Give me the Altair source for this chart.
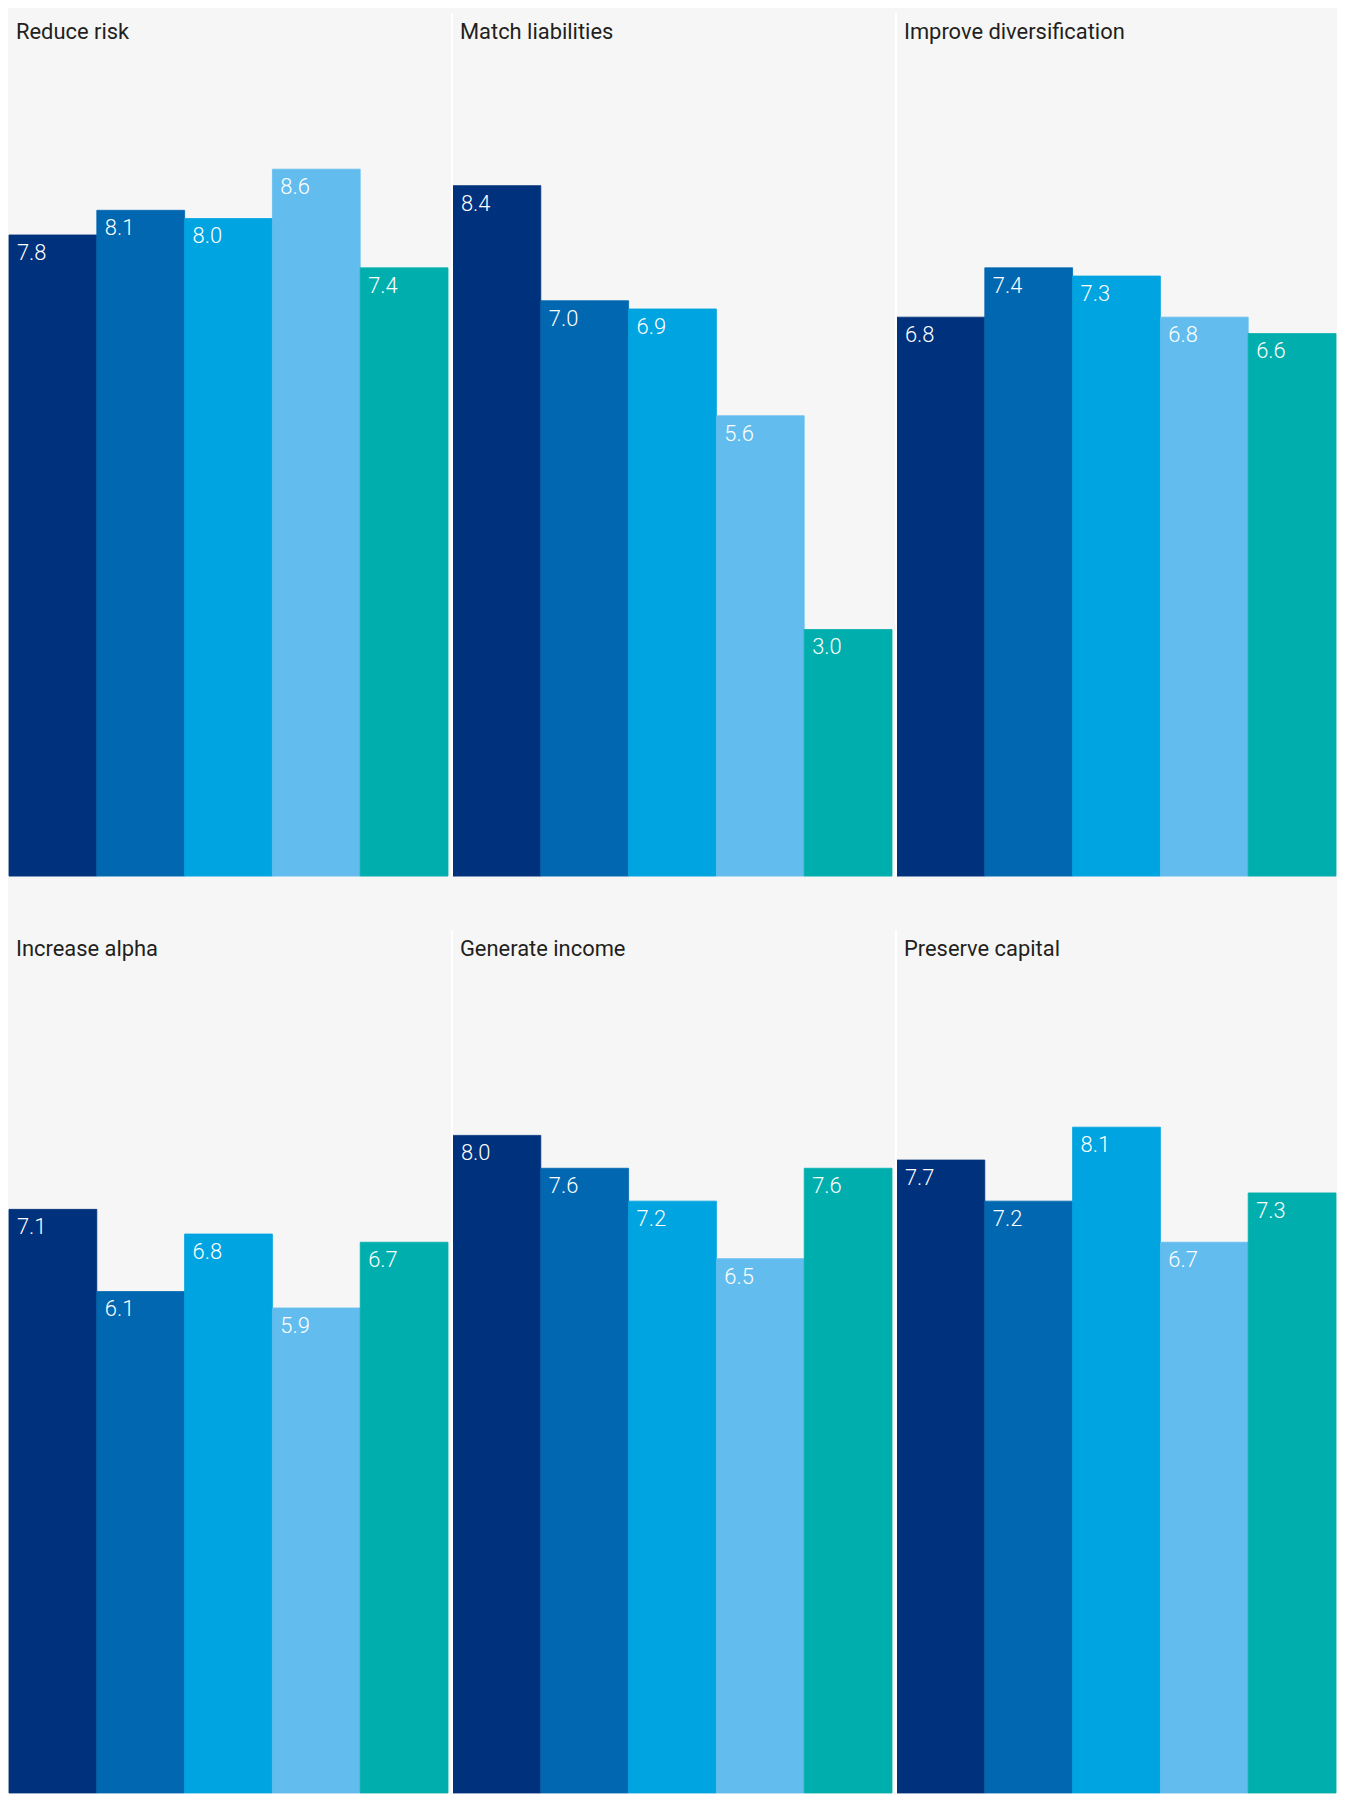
import altair as alt
import pandas as pd

# ---- data ----
TITLES = ["Reduce risk", "Match liabilities", "Improve diversification",
          "Increase alpha", "Generate income", "Preserve capital"]
SERIES = ["Series 1", "Series 2", "Series 3", "Series 4", "Series 5"]
reduce_risk = [7.8, 8.1, 8.0, 8.6, 7.4]
match_liabilities = [8.4, 7.0, 6.9, 5.6, 3.0]
improve_diversification = [6.8, 7.4, 7.3, 6.8, 6.6]
increase_alpha = [7.1, 6.1, 6.8, 5.9, 6.7]
generate_income = [8.0, 7.6, 7.2, 6.5, 7.6]
preserve_capital = [7.7, 7.2, 8.1, 6.7, 7.3]
VALUES = [reduce_risk, match_liabilities, improve_diversification,
          increase_alpha, generate_income, preserve_capital]

# ---- style ----
COLORS = ["#00317c", "#0067b0", "#00a4e0", "#62bdee", "#00afad"]
BG = "#f6f6f6"
FONT = "Roboto"
W, H = 441, 867
YMAX = 10.5


def panel(title, vals, divider):
    df = pd.DataFrame({"series": SERIES, "value": vals,
                       "label": [f"{v:.1f}" for v in vals]})
    base = alt.Chart(df)
    xscale = alt.Scale(domain=SERIES, paddingInner=0, paddingOuter=0)
    cscale = alt.Scale(domain=SERIES, range=COLORS)
    yenc = alt.Y("value:Q", axis=None,
                 scale=alt.Scale(domain=[0, YMAX], nice=False, zero=True))
    bars = base.mark_bar(strokeWidth=0.8).encode(
        x=alt.X("series:N", sort=SERIES, axis=None, scale=xscale),
        y=yenc,
        color=alt.Color("series:N", scale=cscale, legend=None),
        stroke=alt.Stroke("series:N", scale=cscale, legend=None),
    )
    labels = base.mark_text(
        align="left", baseline="alphabetic", dx=8, dy=25,
        color="white", font=FONT, fontSize=22, fontWeight=300,
    ).encode(
        x=alt.X("series:N", sort=SERIES, axis=None, scale=xscale, bandPosition=0),
        y=yenc,
        text="label:N",
    )
    ttl = alt.Chart(pd.DataFrame({"t": [title]})).mark_text(
        align="left", baseline="alphabetic", color="#231f20",
        font=FONT, fontSize=22, fontWeight="normal",
    ).encode(x=alt.value(7), y=alt.value(26), text="t:N")
    layers = [bars, labels, ttl]
    if divider:
        rule = alt.Chart(pd.DataFrame({"d": [0]})).mark_rule(
            color="white", strokeWidth=2
        ).encode(x=alt.value(-1), y=alt.value(0), y2=alt.value(H))
        layers.append(rule)
    return alt.layer(*layers).properties(width=W, height=H)


panels = [panel(TITLES[i], VALUES[i], i % 3 != 0) for i in range(6)]
row1 = alt.hconcat(*panels[:3], spacing=2)
row2 = alt.hconcat(*panels[3:], spacing=2)

chart = alt.vconcat(row1, row2, spacing=52).properties(
    padding=0, background=BG
).configure_view(stroke=None)

chart.save("out.html", embed_options={"renderer": "svg", "actions": False})
